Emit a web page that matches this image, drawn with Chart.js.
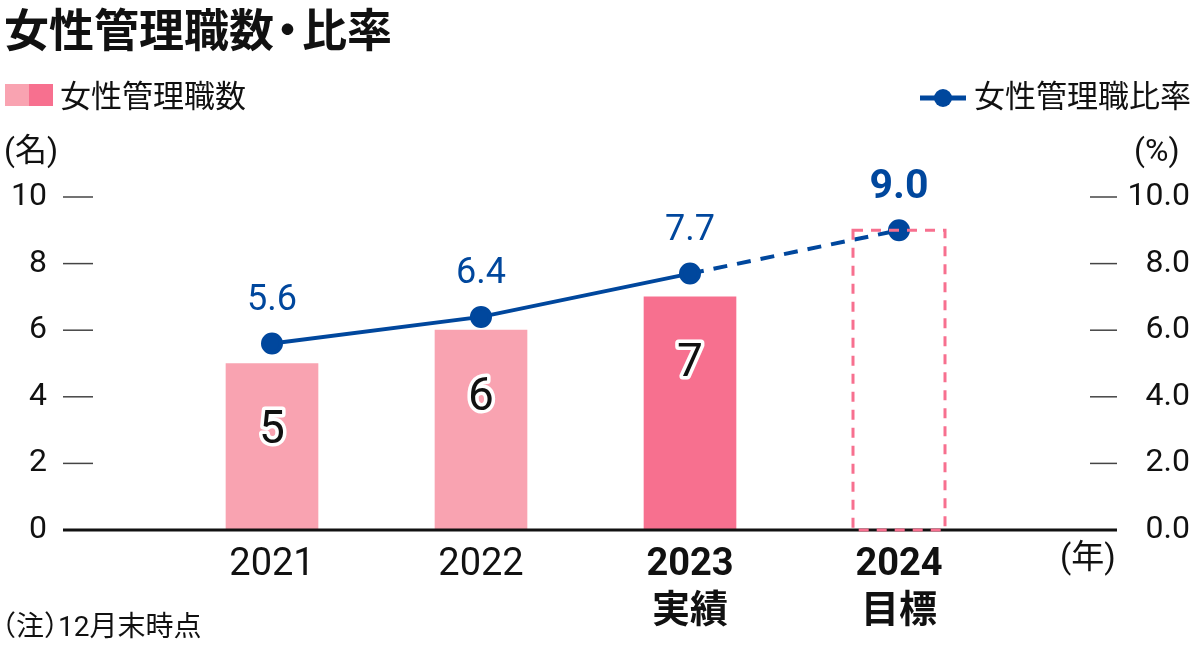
<!DOCTYPE html>
<html lang="ja">
<head>
<meta charset="utf-8">
<script src="https://cdn.jsdelivr.net/npm/chart.js@4"></script>
<style>
  body { margin: 0; background: #fff; font-family: Roboto, "Noto Sans CJK JP", sans-serif; color: #111; }
  #wrap { position: relative; width: 1200px; height: 661px; overflow: hidden; }
  #chart { position: absolute; left: 0; top: 0; }
  .txt { position: absolute; white-space: nowrap; line-height: 1; }
  .title { left: 4px; top: 9px; font-size: 45px; font-weight: bold; }
  .title .dot { display: inline-block; width: 28px; text-align: center; overflow: visible; }
  .title .dot span { display: inline-block; margin-left: -9px; }
  .leg { font-size: 31px; top: 81px; }
  .sw { position: absolute; top: 84px; width: 24px; height: 22px; }
  .unit { font-size: 32px; top: 134px; }
  .note { left: 2px; top: 613px; font-size: 28px; font-feature-settings: "halt"; }
</style>
</head>
<body>
<div id="wrap">
  <canvas id="chart" width="1200" height="661"></canvas>
  <div class="txt title">女性管理職数<span class="dot"><span>・</span></span>比率</div>
  <div class="sw" style="left:5px;background:#f9a3b1"></div>
  <div class="sw" style="left:29px;background:#f7708f"></div>
  <div class="txt leg" style="left:60px">女性管理職数</div>
  <svg style="position:absolute;left:918px;top:86px" width="50" height="24">
    <line x1="2" y1="12" x2="48" y2="12" stroke="#00479d" stroke-width="5"/>
    <circle cx="25" cy="12" r="9" fill="#00479d"/>
  </svg>
  <div class="txt leg" style="left:974px">女性管理職比率</div>
  <div class="txt unit" style="left:4px">(名)</div>
  <div class="txt unit" style="left:1134px">(%)</div>
  <div class="txt unit" style="left:1060px;top:540px;font-size:33px">(年)</div>
  <div class="txt note">（注）12月末時点</div>
</div>
<script>
// data
const years = ["2021", "2022", "2023", "2024"];
const yearNotes = ["", "", "実績", "目標"];
const headcount = [5, 6, 7, null];
const headcountTarget = [null, null, null, 9];
const ratio = [5.6, 6.4, 7.7, 9.0];
const leftTicks = [0, 2, 4, 6, 8, 10];
const rightTicks = [0, 2, 4, 6, 8, 10];

const pinkLight = "#f9a3b1";
const pinkDark = "#f7708f";
const navy = "#00479d";
const fam = "Roboto, 'Noto Sans CJK JP'";

// empty slot on each side so the categories sit where the original has them
const labels = ["", ...years, ""];
const pad = arr => [null, ...arr, null];

const extras = {
  id: "extras",
  afterDatasetsDraw(chart) {
    const c = chart.ctx;
    const area = chart.chartArea;
    const y = chart.scales.y;

    // short tick dashes, both sides
    c.save();
    c.strokeStyle = "#444";
    c.lineWidth = 1.5;
    leftTicks.forEach(v => {
      if (v === 0) return;
      const py = y.getPixelForValue(v);
      c.beginPath(); c.moveTo(area.left, py); c.lineTo(area.left + 30, py); c.stroke();
      c.beginPath(); c.moveTo(area.right - 18, py); c.lineTo(area.right + 9, py); c.stroke();
    });
    // baseline
    c.strokeStyle = "#111";
    c.lineWidth = 3;
    const by = y.getPixelForValue(0);
    c.beginPath(); c.moveTo(area.left, by); c.lineTo(area.right + 9, by); c.stroke();

    // dashed target box
    const tMeta = chart.getDatasetMeta(1);
    tMeta.data.forEach((bar, i) => {
      if (headcountTarget[i - 1] == null) return;
      const p = bar.getProps(["x", "y", "base", "width"], true);
      c.strokeStyle = pinkDark;
      c.lineWidth = 3;
      c.setLineDash([10, 8]);
      c.strokeRect(p.x - p.width / 2, p.y, p.width, p.base - p.y);
      c.setLineDash([]);
    });

    // bar value labels
    const bMeta = chart.getDatasetMeta(0);
    c.font = "46px " + fam;
    c.textAlign = "center";
    c.textBaseline = "middle";
    c.lineJoin = "round";
    bMeta.data.forEach((bar, i) => {
      const v = headcount[i - 1];
      if (v == null) return;
      const p = bar.getProps(["x", "y"], true);
      c.strokeStyle = "#fff";
      c.lineWidth = 7;
      c.strokeText(String(v), p.x, p.y + 68);
      c.fillStyle = "#111";
      c.fillText(String(v), p.x, p.y + 68);
    });

    // ratio labels
    const lMeta = chart.getDatasetMeta(2);
    lMeta.data.forEach((pt, i) => {
      const v = ratio[i - 1];
      if (v == null) return;
      const last = i - 1 === ratio.length - 1;
      c.font = (last ? "bold 41px " : "36px ") + fam;
      c.fillStyle = navy;
      c.fillText(v.toFixed(1), pt.x, pt.y - 43);
    });
    c.restore();
  }
};

new Chart(document.getElementById("chart"), {
  data: {
    labels: labels,
    datasets: [
      {
        type: "bar",
        data: pad(headcount),
        backgroundColor: ctx => (ctx.dataIndex === 3 ? pinkDark : pinkLight),
        barThickness: 92,
        grouped: false,
        yAxisID: "y",
        order: 2
      },
      {
        type: "bar",
        data: pad(headcountTarget),
        backgroundColor: "rgba(0,0,0,0)",
        barThickness: 92,
        grouped: false,
        yAxisID: "y",
        order: 3
      },
      {
        type: "line",
        data: pad(ratio),
        borderColor: navy,
        backgroundColor: navy,
        borderWidth: 4,
        pointRadius: 9,
        pointHoverRadius: 9,
        yAxisID: "y2",
        order: 1,
        segment: {
          borderDash: ctx => (ctx.p0DataIndex === 3 ? [14, 10] : undefined)
        }
      }
    ]
  },
  options: {
    responsive: false,
    animation: false,
    devicePixelRatio: 1,
    layout: { padding: { left: 0, right: 10, top: 197, bottom: 0 } },
    plugins: { legend: { display: false }, tooltip: { enabled: false } },
    scales: {
      x: {
        type: "category",
        offset: false,
        grid: { display: false },
        border: { display: false },
        afterFit: s => { s.height = 131; },
        ticks: {
          autoSkip: false,
          maxRotation: 0,
          padding: 4,
          color: "#111",
          font: ctx => ({ size: 38, family: fam, weight: ctx.index >= 3 ? "bold" : "normal", lineHeight: 1.24 }),
          callback: (v, i) => {
            if (i === 0 || i > years.length) return "";
            const note = yearNotes[i - 1];
            return note ? [years[i - 1], note] : years[i - 1];
          }
        }
      },
      y: {
        position: "left",
        min: 0,
        max: 10,
        afterFit: s => { s.width = 63; },
        afterBuildTicks: s => { s.ticks = leftTicks.map(v => ({ value: v })); },
        grid: { display: false, drawTicks: false },
        border: { display: false },
        ticks: { padding: 16, color: "#111", font: { size: 32, family: fam } }
      },
      y2: {
        position: "right",
        min: 0,
        max: 10,
        afterFit: s => { s.width = 82; },
        afterBuildTicks: s => { s.ticks = rightTicks.map(v => ({ value: v })); },
        grid: { display: false, drawTicks: false },
        border: { display: false },
        ticks: {
          padding: 24,
          crossAlign: "far",
          color: "#111",
          font: { size: 32, family: fam },
          callback: v => Number(v).toFixed(1)
        }
      }
    }
  },
  plugins: [extras]
});
</script>
</body>
</html>
